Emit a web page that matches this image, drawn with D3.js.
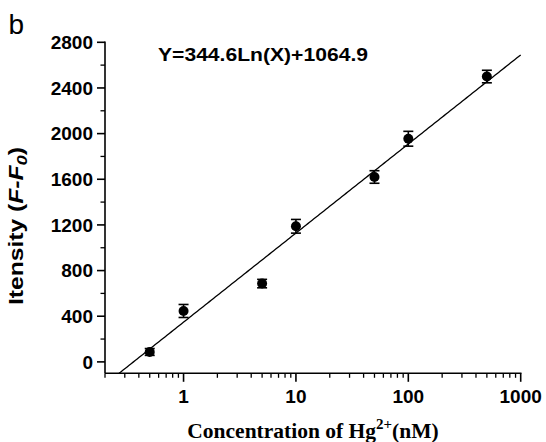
<!DOCTYPE html>
<html>
<head>
<meta charset="utf-8">
<script src="https://cdn.jsdelivr.net/npm/d3@7"></script>
<style>
  html, body { margin: 0; padding: 0; background: #fff; }
  svg { display: block; }
</style>
</head>
<body>
<svg id="chart" width="546" height="442"></svg>
<script>
// ---- data ----
const concentrations = [0.5, 1, 5, 10, 50, 100, 500];          // nM
const intensities    = [87, 446, 686, 1188, 1620, 1955, 2500];   // F-F0
const errors         = [30, 57, 37, 60, 55, 65, 55];
const xTickValues = [1, 10, 100, 1000];
const xTickLabels = ["1", "10", "100", "1000"];
const yTickValues = [0, 400, 800, 1200, 1600, 2000, 2400, 2800];
const yTickLabels = ["0", "400", "800", "1200", "1600", "2000", "2400", "2800"];
const xDomain = [0.2, 1000];
const yDomain = [-100, 2800];
// fitted line as drawn: Y = a*ln(X) + b
const fitSlope = 339;
const fitIntercept = 348;
const fitXRange = [0.267, 1000];
const equationText = "Y=344.6Ln(X)+1064.9";
const panelLabel = "b";

// ---- drawing ----
(function () {
const svg = d3.select("#chart");
const pL = 105, pR = 520.7, pT = 42.3, pB = 373.3;
const x = d3.scaleLog().domain(xDomain).range([pL, pR]);
const y = d3.scaleLinear().domain(yDomain).range([pB, pT]);

const sans = "'Liberation Sans', Arial, sans-serif";
const serif = "'Liberation Serif', 'Times New Roman', serif";

// minor ticks
const xMinor = [];
for (let d = 0.1; d < 1000; d *= 10) {
  for (let k = 2; k <= 9; k++) {
    const v = +(d * k).toPrecision(3);
    if (v >= xDomain[0] && v <= xDomain[1]) xMinor.push(v);
  }
}
const yMinor = d3.range(200, 2800, 400);

// x axis
const xAxis = svg.append("g").attr("transform", `translate(0,${pB})`);
xAxis.append("line").attr("x1", pL).attr("x2", pR + 0.8).attr("stroke", "#000").attr("stroke-width", 1.6);
xAxis.selectAll(".minor").data(xMinor).join("line")
  .attr("x1", d => x(d)).attr("x2", d => x(d)).attr("y1", 0).attr("y2", 4.5)
  .attr("stroke", "#000").attr("stroke-width", 1.3);
xAxis.selectAll(".major").data(xTickValues).join("line")
  .attr("x1", d => x(d)).attr("x2", d => x(d)).attr("y1", 0).attr("y2", 8.5)
  .attr("stroke", "#000").attr("stroke-width", 1.6);
xAxis.selectAll(".lbl").data(xTickValues).join("text")
  .attr("x", d => x(d)).attr("y", 29.5).attr("text-anchor", "middle")
  .attr("font-family", sans).attr("font-weight", "bold").attr("font-size", 19)
  .text((d, i) => xTickLabels[i]);

// y axis
const yAxis = svg.append("g").attr("transform", `translate(${pL},0)`);
yAxis.append("line").attr("y1", pT - 0.8).attr("y2", pB).attr("stroke", "#000").attr("stroke-width", 1.6);
yAxis.selectAll(".minor").data(yMinor).join("line")
  .attr("y1", d => y(d)).attr("y2", d => y(d)).attr("x1", 0).attr("x2", -4.5)
  .attr("stroke", "#000").attr("stroke-width", 1.3);
yAxis.selectAll(".major").data(yTickValues).join("line")
  .attr("y1", d => y(d)).attr("y2", d => y(d)).attr("x1", 0).attr("x2", -8)
  .attr("stroke", "#000").attr("stroke-width", 1.6);
yAxis.selectAll(".lbl").data(yTickValues).join("text")
  .attr("x", -12).attr("y", d => y(d) + 6.8).attr("text-anchor", "end")
  .attr("font-family", sans).attr("font-weight", "bold").attr("font-size", 19)
  .text((d, i) => yTickLabels[i]);

// fit line
const fitPts = d3.range(0, 201).map(i => {
  const lx = Math.log(fitXRange[0]) + (Math.log(fitXRange[1]) - Math.log(fitXRange[0])) * i / 200;
  const X = Math.exp(lx);
  return [X, fitSlope * Math.log(X) + fitIntercept];
});
svg.append("path")
  .attr("d", d3.line().x(d => x(d[0])).y(d => y(d[1]))(fitPts))
  .attr("fill", "none").attr("stroke", "#000").attr("stroke-width", 1.3);

// error bars
const pts = concentrations.map((c, i) => ({c, v: intensities[i], e: errors[i]}));
const eb = svg.append("g").attr("stroke", "#000").attr("stroke-width", 1.6);
eb.selectAll(".v").data(pts).join("line")
  .attr("x1", d => x(d.c)).attr("x2", d => x(d.c))
  .attr("y1", d => y(d.v - d.e)).attr("y2", d => y(d.v + d.e));
eb.selectAll(".t").data(pts).join("line")
  .attr("x1", d => x(d.c) - 5).attr("x2", d => x(d.c) + 5)
  .attr("y1", d => y(d.v + d.e)).attr("y2", d => y(d.v + d.e));
eb.selectAll(".b").data(pts).join("line")
  .attr("x1", d => x(d.c) - 5).attr("x2", d => x(d.c) + 5)
  .attr("y1", d => y(d.v - d.e)).attr("y2", d => y(d.v - d.e));

// points
svg.append("g").selectAll("circle").data(pts).join("circle")
  .attr("cx", d => x(d.c)).attr("cy", d => y(d.v)).attr("r", 5)
  .attr("fill", "#000");

// equation
svg.append("text").attr("x", 158).attr("y", 61)
  .attr("font-family", sans).attr("font-weight", "bold").attr("font-size", 19)
  .attr("textLength", 210).attr("lengthAdjust", "spacingAndGlyphs")
  .text(equationText);

// panel label
svg.append("text").attr("x", 8.5).attr("y", 34)
  .attr("font-family", sans).attr("font-size", 28).text(panelLabel);

// y title
const yt = svg.append("text")
  .attr("transform", "translate(23,226) rotate(-90)")
  .attr("text-anchor", "middle")
  .attr("font-family", sans).attr("font-weight", "bold").attr("font-size", 20)
  .attr("textLength", 158).attr("lengthAdjust", "spacingAndGlyphs");
yt.append("tspan").text("Itensity (");
yt.append("tspan").attr("font-style", "italic").text("F-F");
yt.append("tspan").attr("font-style", "italic").attr("font-size", 15).attr("dy", 4).text("0");
yt.append("tspan").attr("dy", -4).text(")");

// x title
const xt = svg.append("text")
  .attr("x", 313).attr("y", 438).attr("text-anchor", "middle")
  .attr("font-family", serif).attr("font-weight", "bold").attr("font-size", 21.5);
xt.append("tspan").text("Concentration of Hg");
xt.append("tspan").attr("font-size", 15).attr("dy", -9).text("2+");
xt.append("tspan").attr("dy", 9).text("(nM)");
})();
</script>
</body>
</html>
